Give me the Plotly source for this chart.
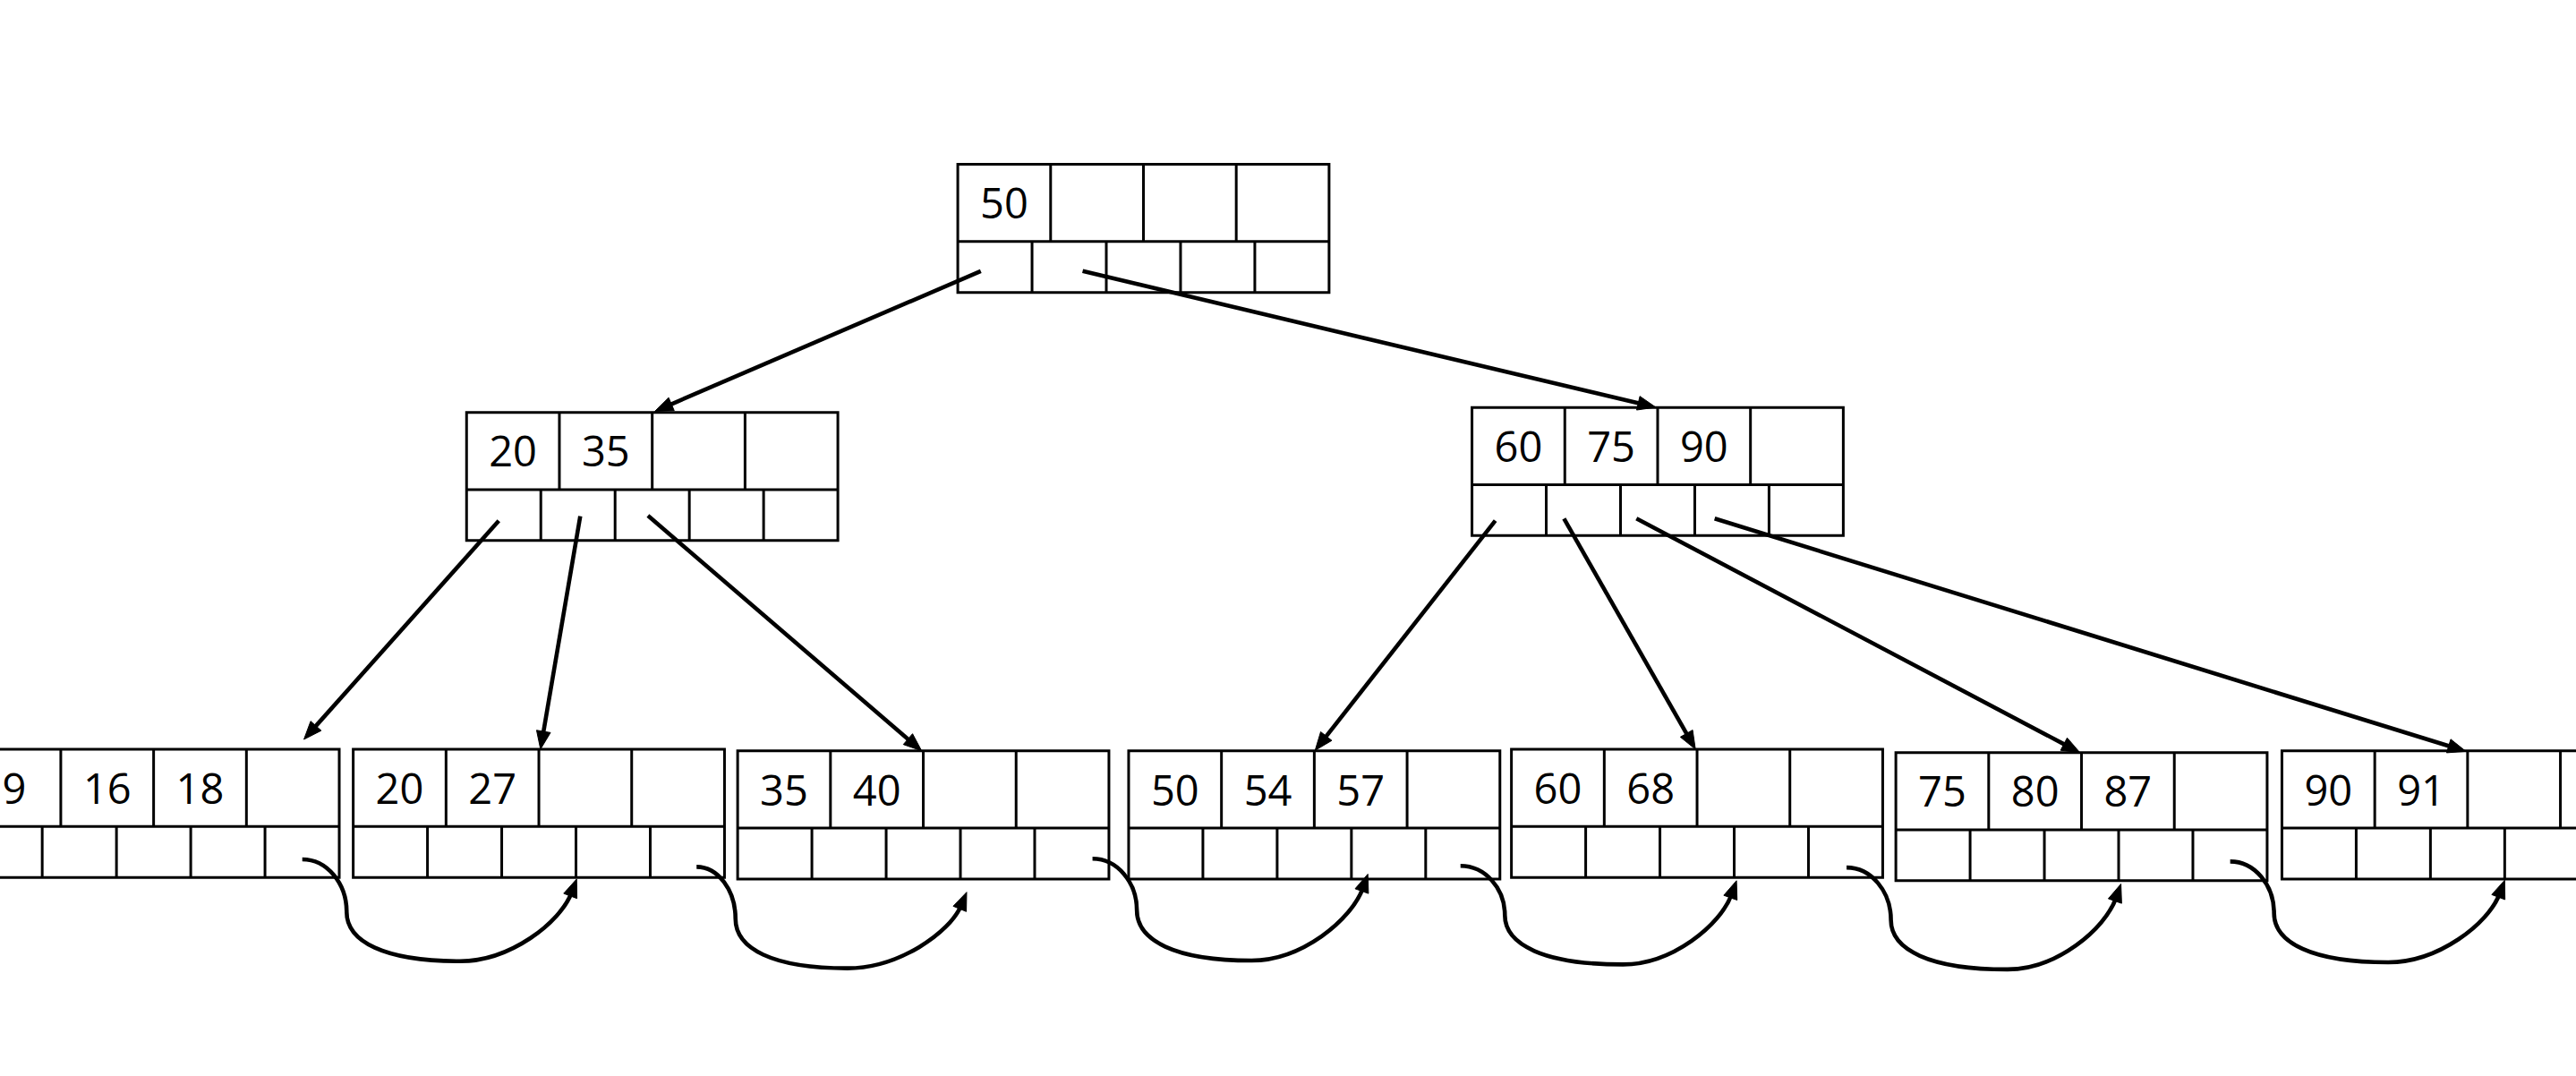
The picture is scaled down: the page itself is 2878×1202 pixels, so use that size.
import numpy as np
import plotly.graph_objects as go

# ---------------- data ----------------
W_PX, H_PX = 2878, 1202
U = W_PX / 1568.0          # pixels per axis unit

# node top-left corners (axis units) and keys
node_x = [583, 284, 896, -19.5, 215, 449, 687, 920, 1154, 1389]
node_y = [100, 251, 248, 456, 456, 457, 457, 456, 458, 457]
node_keys = [[50], [20, 35], [60, 75, 90], [9, 16, 18], [20, 27], [35, 40],
             [50, 54, 57], [60, 68], [75, 80, 87], [90, 91]]
NODE_W = 226
KEY_H = 47
PTR_H = 31
N_KEYS = 4
N_PTRS = 5

# tree edges: tail (inside parent pointer cell) -> head (child top)
edge_tail_x = [597, 659, 303.6, 353.2, 394.4, 910.2, 952.0, 996.1, 1043.7]
edge_tail_y = [165, 165, 316.9, 314.2, 313.8, 316.9, 315.6, 315.6, 315.6]
edge_head_x = [398.6, 1007.9, 185, 329, 561, 800.5, 1032, 1266, 1501]
edge_head_y = [250.3, 247.9, 450, 456, 457, 456.7, 456, 458, 457.3]

# leaf sibling links: start, inflection, bottom, end
link_sx = [184, 424, 665, 889, 1124, 1357.5]
link_sy = [523, 527.6, 522.6, 527, 528, 524.3]
link_ix = [211, 447.7, 692, 916, 1151, 1384.2]
link_iy = [555, 559.3, 554, 557, 560, 555.7]
link_bx = [280, 515.8, 761.8, 988, 1222, 1453.7]
link_by = [585, 589.3, 584.6, 587, 590, 585.7]
link_ex = [351, 588.4, 832.6, 1057, 1291, 1524.6]
link_ey = [535, 543, 532, 536, 538, 535.7]

# ---------------- figure ----------------
fig = go.Figure()
shapes = []
BOX_LW = 3.0
ARR_LW = 4.6
HEAD_L = 11.0
HEAD_HW = 4.3

def hline(x0, x1, y):
    shapes.append(dict(type="line", xref="x", yref="y", x0=x0, x1=x1, y0=y, y1=y,
                       line=dict(color="black", width=BOX_LW)))

def vline(x, y0, y1):
    shapes.append(dict(type="line", xref="x", yref="y", x0=x, x1=x, y0=y0, y1=y1,
                       line=dict(color="black", width=BOX_LW)))

text_x, text_y, text_s = [], [], []
for nx, ny, keys in zip(node_x, node_y, node_keys):
    shapes.append(dict(type="rect", xref="x", yref="y", x0=nx, x1=nx + NODE_W,
                       y0=ny, y1=ny + KEY_H + PTR_H,
                       line=dict(color="black", width=BOX_LW)))
    hline(nx, nx + NODE_W, ny + KEY_H)
    kw = NODE_W / N_KEYS
    pw = NODE_W / N_PTRS
    for i in range(1, N_KEYS):
        vline(nx + i * kw, ny, ny + KEY_H)
    for i in range(1, N_PTRS):
        vline(nx + i * pw, ny + KEY_H, ny + KEY_H + PTR_H)
    for i, k in enumerate(keys):
        text_x.append(nx + (i + 0.5) * kw)
        text_y.append(ny + KEY_H / 2 + 3.2)
        text_s.append(str(k))

def arrow_head(tx, ty, dx, dy):
    n = np.hypot(dx, dy)
    ux, uy = dx / n, dy / n
    bx, by = tx - HEAD_L * ux, ty - HEAD_L * uy
    px, py = -uy, ux
    p1 = (bx + HEAD_HW * px, by + HEAD_HW * py)
    p2 = (bx - HEAD_HW * px, by - HEAD_HW * py)
    shapes.append(dict(type="path", xref="x", yref="y",
                       path=f"M {tx},{ty} L {p1[0]},{p1[1]} L {p2[0]},{p2[1]} Z",
                       fillcolor="black", line=dict(color="black", width=1)))
    return tx - 0.8 * HEAD_L * ux, ty - 0.8 * HEAD_L * uy

for tx0, ty0, hx, hy in zip(edge_tail_x, edge_tail_y, edge_head_x, edge_head_y):
    bx, by = arrow_head(hx, hy, hx - tx0, hy - ty0)
    shapes.append(dict(type="line", xref="x", yref="y", x0=tx0, y0=ty0, x1=bx, y1=by,
                       line=dict(color="black", width=ARR_LW)))

for sx, sy, ix, iy, bx, by, ex, ey in zip(link_sx, link_sy, link_ix, link_iy,
                                          link_bx, link_by, link_ex, link_ey):
    c1 = (sx + 0.55 * (ix - sx), sy)
    c2 = (ix, iy - 0.55 * (iy - sy))
    c3 = (ix, iy + 0.6 * (by - iy))
    c4 = (ix + 0.33 * (bx - ix), by)
    c5 = (bx + 0.43 * (ex - bx), by)
    c6 = (ex - 0.14 * (ex - bx), ey + 0.53 * (by - ey))
    hbx, hby = arrow_head(ex, ey, ex - c6[0], ey - c6[1])
    path = (f"M {sx},{sy} C {c1[0]},{c1[1]} {c2[0]},{c2[1]} {ix},{iy} "
            f"C {c3[0]},{c3[1]} {c4[0]},{c4[1]} {bx},{by} "
            f"C {c5[0]},{c5[1]} {c6[0]},{c6[1]} {hbx},{hby}")
    shapes.append(dict(type="path", xref="x", yref="y", path=path,
                       line=dict(color="black", width=ARR_LW)))

fig.add_trace(go.Scatter(x=text_x, y=text_y, text=text_s, mode="text",
                         textposition="middle center", cliponaxis=True,
                         textfont=dict(family="Open Sans, Noto Sans, sans-serif",
                                       size=47, color="black"),
                         hoverinfo="skip", showlegend=False))

fig.update_layout(
    width=W_PX, height=H_PX,
    margin=dict(l=0, r=0, t=0, b=0),
    paper_bgcolor="white", plot_bgcolor="white",
    shapes=shapes, showlegend=False,
    xaxis=dict(range=[0, W_PX / U], visible=False, fixedrange=True),
    yaxis=dict(range=[H_PX / U, 0], visible=False, fixedrange=True),
)
fig.write_html(
    "out.html",
    config={"displayModeBar": False, "staticPlot": True},
    post_script="document.body.style.margin='0';document.body.style.overflow='hidden';",
)
